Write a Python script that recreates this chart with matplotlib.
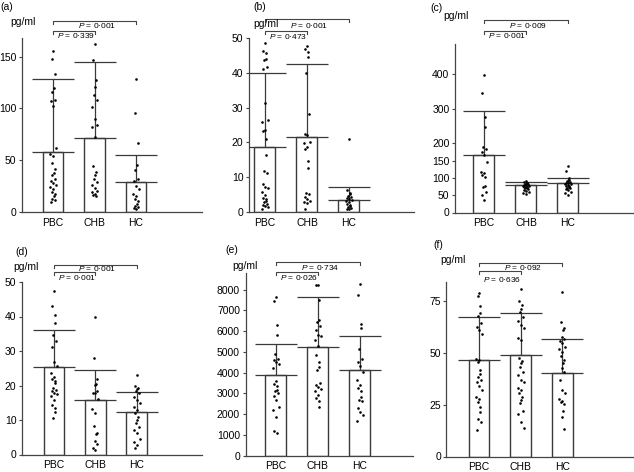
import numpy as np
import matplotlib
matplotlib.use("Agg")
import matplotlib.pyplot as plt
from matplotlib.transforms import blended_transform_factory

plt.rcParams['font.family'] = ['Liberation Sans', 'DejaVu Sans']
plt.rcParams['mathtext.fontset'] = 'custom'
plt.rcParams['mathtext.it'] = 'Liberation Sans:italic'
plt.rcParams['mathtext.rm'] = 'Liberation Sans'

W, H = 634, 472
groups = ['PBC', 'CHB', 'HC']

# individual values (pg/ml)
a_pbc = [155, 148, 133, 120, 116, 108, 107, 102, 62, 56, 54, 47, 42, 38, 36, 32, 30, 28, 26, 24, 22, 19, 17, 15, 13, 12, 10]
a_chb = [162, 147, 127, 121, 113, 108, 101, 90, 84, 82, 72, 44, 39, 36, 32, 29, 26, 23, 20, 19, 17, 16, 15]
a_hc = [128, 96, 67, 45, 41, 32, 30, 25, 22, 17, 15, 13, 11, 8, 6, 5, 4, 3]

b_pbc = [48.7, 46.2, 45.8, 44, 43.6, 41.6, 41, 31.4, 26.4, 25.9, 23.5, 23.2, 21, 16.3, 11.7, 11.2, 8.1, 7.3,
         6.8, 5.8, 4.9, 4, 3.7, 3.2, 2.9, 2.3, 2.0, 1.7, 1.4, 0.8]
b_chb = [47.6, 46.7, 46, 44.5, 40, 28.3, 22.5, 22, 20.2, 19.7, 18.6, 18.1, 14.6, 12.6, 5.6, 5.1, 4.4, 3.8,
         3.3, 2.8, 2.5, 0.8]
b_hc = [21, 6.4, 5.6, 5.2, 4.6, 4.2, 4, 3.7, 3.4, 3.1, 2.8, 2.3, 2.0, 1.7, 1.5, 1.2, 1.0, 0.8]

c_pbc = [397, 344, 275, 248, 188, 183, 176, 165, 147, 118, 113, 109, 104, 77, 73, 60, 51, 35]
c_chb = [90, 88, 86, 84, 82, 81, 80, 79, 78, 77, 76, 75, 74, 72, 70, 68, 66, 63, 60, 57, 54]
c_hc = [135, 120, 100, 95, 91, 88, 86, 85, 83, 82, 80, 78, 76, 74, 72, 70, 67, 64, 60, 56, 52]

d_pbc = [47.4, 43, 40.4, 38.1, 34.5, 33, 31.2, 26.8, 25.6, 23.5, 22.5, 21.8, 21.3, 20.8, 19.3, 18.8, 18.3,
         17.9, 17.4, 16.9, 15.7, 14.3, 13.5, 12.4, 10.6]
d_chb = [39.8, 27.9, 22, 20.4, 20.1, 18.3, 17.9, 17.7, 16.2, 13.3, 11.9, 8.4, 6.1, 5.8, 4, 3, 1.9, 1.3]
d_hc = [23.1, 19.9, 19.4, 18.9, 18.3, 17.7, 16.7, 15.7, 14.8, 13.8, 12.8, 11.9, 10.9, 9.9, 9, 8, 7, 6.1,
        4.6, 3.7, 2.7, 1.9]

e_pbc = [7640, 7460, 6300, 5790, 4890, 4660, 4600, 4530, 4400, 4210, 3570, 3440, 3330, 3170, 3090, 3010,
         2850, 2690, 2320, 2200, 1880, 1160, 1080]
e_chb = [8220, 8200, 7500, 6540, 6430, 6250, 6060, 5820, 5740, 5580, 5260, 4860, 4530, 4290, 4130, 3490,
         3380, 3280, 3200, 3120, 2930, 2770, 2610, 2320]
e_hc = [8250, 7750, 6350, 6140, 5150, 4650, 4530, 4330, 4050, 3650, 3380, 3250, 3120, 2800, 2690, 2610,
        2280, 2120, 1960, 1670]

f_pbc = [78.5, 77.4, 72.6, 68.9, 67.8, 64.1, 62.5, 60.9, 58.8, 47.1, 46.5, 45.4, 41.7, 39.6, 38.5, 36.9,
         35.7, 33.7, 32, 28.8, 27.7, 26.4, 23.6, 21.6, 18.1, 16.8, 12.8]
f_chb = [80.6, 74.8, 72.9, 71, 69.4, 67.3, 65.2, 63.3, 61.7, 56.9, 56.1, 47.3, 46, 44.9, 43.3, 40.9, 39.3,
         36.9, 36.1, 33.2, 32, 30.4, 28.8, 27.2, 25.6, 22, 20.4, 16.8, 13.9]
f_hc = [79, 64.9, 62, 60.9, 57.7, 56.6, 55.6, 54.5, 52.9, 51.8, 50.2, 48.6, 46.5, 44.9, 42.5, 40.9, 36.9,
        32, 30.4, 27.7, 26.8, 26, 25.2, 22, 18.8, 13.3]

# bar heights (mean) and upward error (SD)
means = {'a': [58, 71, 29], 'b': [18.6, 21.5, 3.5], 'c': [166, 80, 84],
         'd': [25.4, 15.8, 12.2], 'e': [3870, 5230, 4120], 'f': [46.6, 48.9, 40]}
sds = {'a': [70, 74, 26.5], 'b': [21.4, 20.9, 3.8], 'c': [126, 8, 16],
       'd': [10.6, 8.8, 5.9], 'e': [1500, 2400, 1660], 'f': [20.4, 20.1, 16.7]}
points = {'a': [a_pbc, a_chb, a_hc], 'b': [b_pbc, b_chb, b_hc], 'c': [c_pbc, c_chb, c_hc],
          'd': [d_pbc, d_chb, d_hc], 'e': [e_pbc, e_chb, e_hc], 'f': [f_pbc, f_chb, f_hc]}
pvals = {'a': ('0·339', '0·001'), 'b': ('0·473', '0·001'), 'c': ('0·001', '0·009'),
         'd': ('0·001', '0·001'), 'e': ('0·026', '0·734'), 'f': ('0·636', '0·092')}
yticks = {'a': [0, 50, 100, 150], 'b': [0, 10, 20, 30, 40, 50], 'c': [0, 50, 100, 150, 200, 300, 400],
          'd': [0, 10, 20, 30, 40, 50], 'e': list(range(0, 8001, 1000)), 'f': [0, 25, 50, 75]}

# layout in pixels: left, top, right, bottom, xlim, ymax
layout = {
    'a': (22, 38, 202, 212, (-0.75, 3.59), 168),
    'b': (249, 38, 414, 212, (-0.38, 3.55), 50),
    'c': (455, 44, 633, 212.5, (-0.69, 3.55), 487),
    'd': (22, 282, 202, 454.5, (-0.77, 3.58), 50),
    'e': (245.5, 273, 413, 455.5, (-0.72, 3.26), 8800),
    'f': (446.5, 282, 633, 456.5, (-0.78, 3.70), 84),
}
# label positions (px): panel letter, pg/ml
labels = {
    'a': ((0, 7), (10, 22)), 'b': ((253, 7), (253, 24)), 'c': ((430, 8), (443, 16)),
    'd': ((15, 252), (13, 267)), 'e': ((225, 250), (232, 266)), 'f': ((433, 245), (440, 260)),
}
# bracket geometry (px): long line y, long text y, short line y, short text y
brackets = {
    'a': (20.5, 25, 30.5, 35.5), 'b': (19.3, 25, 30.7, 36.5), 'c': (20, 25, 30.7, 35.7),
    'd': (265, 268.5, 272, 278), 'e': (261.7, 267, 271.7, 278), 'f': (263, 268, 271, 279),
}

fig = plt.figure(figsize=(W / 100, H / 100), dpi=100)
edge = '#3a3a3a'
jit = np.array([0, -1, 1, 0.5, -0.5, 1.5, -1.5, 0, 2, -2]) * 0.035

for key in 'abcdef':
    l, t, r, b, xlim, ymax = layout[key]
    ax = fig.add_axes([l / W, 1 - b / H, (r - l) / W, (b - t) / H])
    x = np.arange(3)
    ax.bar(x, means[key], width=0.5, color='white', edgecolor=edge, linewidth=1.0, zorder=2)
    ax.errorbar(x, means[key], yerr=[np.zeros(3), sds[key]], fmt='none', ecolor=edge,
                elinewidth=0.9, capsize=15, capthick=0.9, zorder=3)
    for i, vals in enumerate(points[key]):
        xs = i + jit[np.arange(len(vals)) % len(jit)]
        ax.scatter(xs, vals, s=3.5, color='black', linewidths=0, zorder=4)
    ax.set_xlim(*xlim)
    ax.set_ylim(0, ymax)
    ax.set_yticks(yticks[key])
    ax.set_xticks(x)
    ax.set_xticklabels(groups)
    for s in ['top', 'right']:
        ax.spines[s].set_visible(False)
    for s in ['left', 'bottom']:
        ax.spines[s].set_color('#444444')
        ax.spines[s].set_linewidth(0.9)
    ax.tick_params(axis='y', length=2.5, width=0.8, pad=1.5, labelsize=7.5, color='#444444')
    ax.tick_params(axis='x', length=0, pad=4, labelsize=7.5)

    (lx, ly), (px, py) = labels[key]
    fig.text(lx / W, 1 - ly / H, '(%s)' % key, fontsize=7.5, va='center', ha='left')
    fig.text(px / W, 1 - py / H, 'pg/ml', fontsize=7.5, va='center', ha='left')

    tr = blended_transform_factory(ax.transData, fig.transFigure)
    y1, ty1, y2, ty2 = brackets[key]
    p_short, p_long = pvals[key]
    tick = 3.0
    for (xa, xb, yl, ty, ptxt) in [(0, 2, y1, ty1, p_long), (0, 1, y2, ty2, p_short)]:
        ax.plot([xa, xa, xb, xb], [1 - (yl + tick) / H, 1 - yl / H, 1 - yl / H, 1 - (yl + tick) / H],
                transform=tr, color='#444444', lw=0.8, clip_on=False)
        ax.text((xa + xb) / 2 + 0.05, 1 - ty / H, r'$\it{P}$ = ' + ptxt, transform=tr, fontsize=6,
                ha='center', va='center', clip_on=False)

fig.savefig('out.png', dpi=100)
